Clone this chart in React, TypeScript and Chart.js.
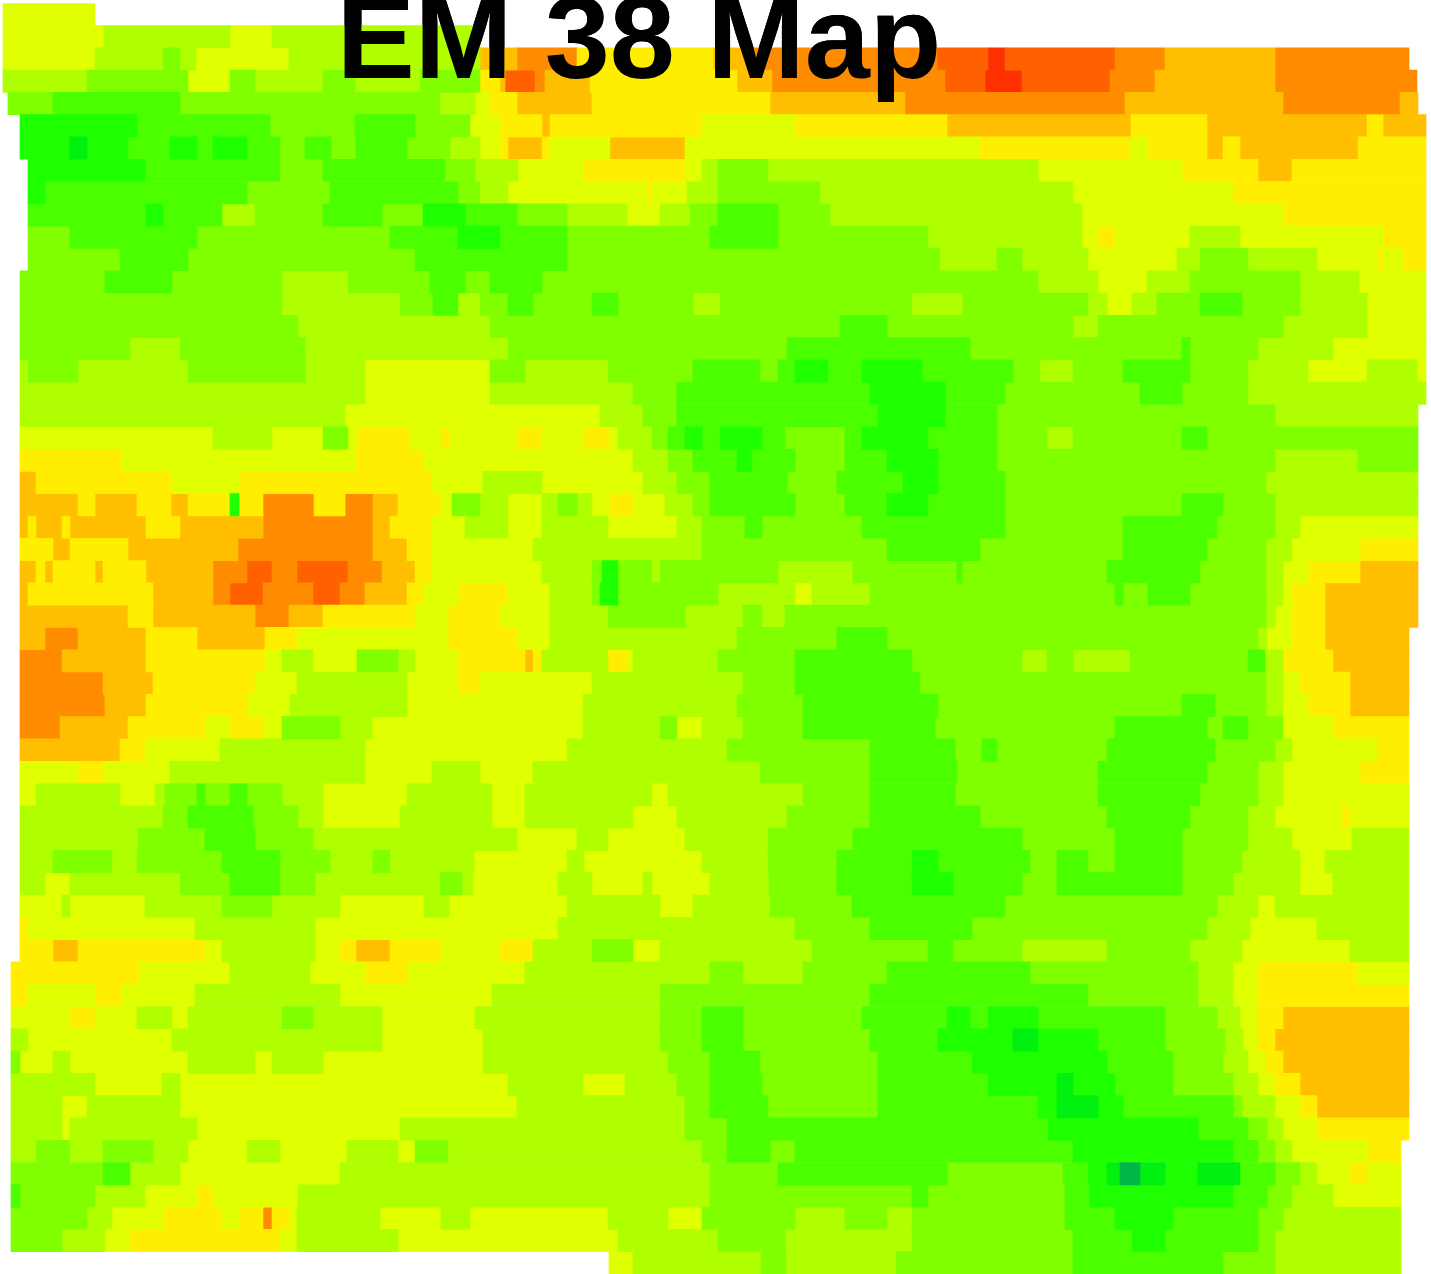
import React, { useEffect, useRef } from "react";
import { Chart, registerables } from "chart.js";

Chart.register(...registerables);

const titleText = "EM 38 Map";

// Conductivity classes, lowest to highest. "." means no reading.
const classKeys = ["a", "b", "c", "d", "e", "f", "g", "h", "i", "j", "k", "l"];
const classColors = [
  "#00B84A", "#00F010", "#1EFF00", "#4CFF00", "#80FF00", "#B0FF00",
  "#E0FF00", "#FFEE00", "#FFBF00", "#FF8C00", "#FF6000", "#FF3000",
];

const fieldWidth = 1431;

// One string per survey line, north to south: class letter + easting where that class ends.
const surveyLines = [
  ".3 g95 .1431",
  ".3 g104 f230 g272 f480 .1431",
  ".3 g95 f163 e180 f196 g289 f480 i517 j577 h713 i747 j937 k988 l1005 k1115 j1165 i1275 j1409 .1431",
  ".3 f87 e188 g230 e255 f323 e355 f420 e480 h500 i505 k535 j545 i590 h737 i772 j945 k985 l1022 k1110 j1155 i1275 j1417 .1431",
  ".8 e53 d180 e440 f475 g490 h517 i592 h770 i905 j1125 i1283 j1400 i1418 .1431",
  ".20 c137 d270 e355 d415 e470 g500 h542 i550 h702 g795 h947 i1131 h1207 i1367 h1383 i1426 .1431",
  ".20 c70 b87 c128 d170 c197 d213 c247 d280 e305 d331 e356 d407 e450 f480 g500 h508 i542 h550 g610 i685 g980 h1130 g1148 h1207 i1223 h1240 i1358 h1426 .1431",
  ".28 c145 d280 e323 d445 e475 f518 g583 h685 g702 f718 e768 f1038 g1182 h1258 i1292 h1426 .1431",
  ".28 c45 d247 e330 d458 e480 f508 g647 h652 g687 f718 e820 f1073 g1233 h1426 .1431",
  ".28 d146 c163 d222 f255 e323 d382 e423 c465 d517 e567 f627 g660 f690 e718 d778 e830 f1082 g1283 h1426 .1431",
  ".28 e70 d197 e390 d458 c500 d567 e710 d778 e928 f1082 g1098 h1115 g1190 f1240 g1383 h1426 .1431",
  ".28 e120 d188 e415 d567 e940 f997 e1022 f1088 g1177 f1200 e1248 f1317 g1377 h1383 g1403 h1426 .1431",
  ".20 e105 d172 e282 f348 e430 d465 e490 d542 e1038 f1098 g1147 f1190 e1300 f1359 g1426 .1431",
  ".20 e282 f400 e433 d458 f480 e508 d533 e592 d618 e693 f720 e912 f963 e1088 f1107 g1132 f1157 e1200 d1242 e1300 f1367 g1426 .1431",
  ".20 e298 f490 e840 d887 e1073 f1098 e1283 f1367 g1426 .1431",
  ".20 e130 f180 e305 f508 e787 d970 e1182 d1190 e1258 f1333 g1426 .1431",
  ".20 f28 e78 f188 e305 f365 g490 e525 f608 e693 d760 e778 d795 c828 d862 c922 d1013 e1040 f1073 e1123 d1190 e1248 f1308 g1367 f1417 g1426 .1431",
  ".20 f365 g490 f633 e677 d870 c945 d1005 e1140 d1182 e1248 f1426 .1431",
  ".20 f345 g600 f643 e677 d878 c945 d997 e1275 f1418 .1431",
  ".20 g213 f272 g323 e348 g357 h410 g441 h450 g517 h542 g584 h610 g618 f652 e668 d685 c702 d720 c762 d785 e845 d862 c928 d997 e1047 f1073 e1182 d1207 e1418 .1431",
  ".20 h122 g355 h423 g633 f668 e693 d737 c752 d795 e845 d887 c938 d997 e1275 f1358 e1418 .1431",
  ".20 i36 h172 g240 h432 g483 f542 g643 f677 e710 d787 e837 d903 c938 d1005 e1266 f1418 .1431",
  ".20 i78 h95 i137 h171 i188 h230 c239 h263 j314 h345 j373 i398 h441 g452 e480 f508 g542 f558 e577 f592 g610 h633 g665 f693 e710 d795 e845 d887 c928 d1005 e1182 d1223 e1275 f1418 .1431",
  ".20 i28 h36 i62 h70 i146 h180 i263 j373 i390 h432 g465 f508 g542 f608 g677 f702 e745 d762 e862 d1005 e1123 d1217 e1275 f1300 g1418 .1431",
  ".20 h53 i70 h128 i238 j373 i407 h432 g533 f702 e887 d980 e1123 d1207 e1266 f1292 g1360 h1418 .1431",
  ".20 i36 h45 i53 h95 i103 h146 i213 j247 k272 j297 k348 j382 i415 h432 g542 f592 e602 c618 e652 f660 e778 f853 e957 d962 e1107 d1200 e1266 f1283 g1308 h1360 i1418 .1431",
  ".20 i28 h153 i213 j230 k263 j313 k340 j365 i407 h423 g458 h508 g550 f592 e600 c618 e718 f795 g812 f870 e1115 d1123 e1148 d1190 e1266 f1283 g1292 h1325 i1418 .1431",
  ".20 i128 h153 i255 j289 i323 h415 g448 h500 g550 f608 e685 f743 e762 f785 e1266 f1275 g1292 h1325 i1418 .1431",
  ".20 i45 j78 i146 h197 i265 h297 g448 h517 g550 f737 e837 d887 e1258 f1267 g1292 h1325 i1409 .1431",
  ".20 j62 i146 h265 g282 f313 g357 e398 f415 g458 h525 i533 h542 f608 h627 g633 f718 e795 d912 e1022 f1047 e1073 f1130 e1248 d1265 f1283 h1333 i1409 .1431",
  ".20 j103 i153 h255 g297 f407 g458 h480 g592 f743 e795 d920 e1266 f1283 g1300 h1350 i1409 .1431",
  ".20 j105 i146 h247 g290 f407 g583 f737 e803 d938 e1182 d1215 e1266 f1283 g1308 h1350 i1409 .1431",
  ".20 j60 i128 h205 g230 h263 g282 e340 f372 g583 f660 e677 g702 f743 e803 d935 e1115 d1207 e1223 d1248 e1283 g1333 h1409 .1431",
  ".20 i120 h145 g220 f365 g567 f727 e870 d955 e982 d997 e1107 d1215 e1275 f1292 g1377 h1409 .1431",
  ".20 g78 h103 g170 f365 g432 f480 g533 f760 e870 d957 e1098 d1207 e1258 f1283 g1360 h1409 .1431",
  ".20 g36 f120 g155 f165 e197 d205 e230 d247 e282 f323 g407 f492 g525 f652 g668 f803 e870 d955 e1098 d1200 e1258 f1283 g1409 .1431",
  ".20 f163 e188 d253 e298 f323 g400 f492 g525 f633 g677 f787 e870 d980 e1107 d1190 e1248 f1275 g1342 h1350 g1409 .1431",
  ".20 f138 e205 d255 e313 f517 g577 f608 g685 f768 e853 d1022 e1115 d1182 e1248 f1292 g1352 f1409 .1431",
  ".20 f53 e112 f137 e222 d280 e330 f373 e390 f474 g567 f584 g702 f768 e837 d912 c938 d1030 e1057 d1088 e1115 d1182 e1242 f1300 g1325 f1409 .1431",
  ".20 f45 g70 f180 e230 d280 e315 f440 e462 f473 g558 f592 g643 f652 g710 f769 e837 d912 c953 d1022 e1057 d1182 e1233 f1300 g1333 f1409 .1431",
  ".20 g62 f70 g145 f163 f222 e272 f340 g424 f449 g567 f660 g693 f770 e852 d1005 e1217 f1258 g1275 f1409 .1431",
  ".20 h28 g195 f315 g558 f795 e870 d972 e1207 f1250 g1317 f1409 .1431",
  ".20 h53 i78 h205 g222 f315 g340 h356 i390 h441 g500 h533 f592 e633 g660 f812 e928 d953 e1022 f1107 e1190 f1242 g1350 f1409 .1431",
  ".11 h140 g230 f310 g365 h407 g525 f710 e743 f803 e887 d1030 e1198 f1233 g1258 h1358 g1409 .1431",
  ".11 h28 g95 h122 g195 f340 g492 f660 e870 d1088 e1198 f1233 g1258 h1409 .1431",
  ".11 g70 h95 g137 f172 g188 f282 e313 f382 g475 f660 e702 d743 e862 d947 c970 d988 c1038 d1165 e1217 f1240 g1257 h1283 i1409 .1431",
  ".11 f28 g172 f382 g483 f660 e702 d743 e870 d938 c1013 b1038 c1098 d1165 e1225 f1243 g1257 h1275 i1409 .1431",
  ".11 e20 g53 f70 g188 f255 g272 f323 g483 f668 e710 d760 e878 d972 c1107 d1173 e1223 f1248 g1265 h1283 i1409 .1431",
  ".11 f95 g162 f180 g508 f583 g625 f677 e710 d762 e878 d988 c1057 b1073 c1115 d1173 e1233 f1258 g1275 h1300 i1409 .1431",
  ".11 f62 g87 f180 g517 f685 e710 d768 e878 d1038 c1057 b1098 c1123 d1233 e1242 f1275 g1300 h1317 i1409 .1431",
  ".11 f62 g70 f197 g400 f685 e727 d1048 c1198 d1248 e1267 f1283 g1317 h1409 .1431",
  ".11 f36 e70 f103 e153 f188 g247 f280 g347 f398 g415 e448 f702 e727 d770 e795 d1073 c1233 d1258 e1275 f1292 g1368 h1401 .1431",
  ".11 e103 d130 f180 g340 f710 e778 d947 e1063 d1088 c1107 b1120 a1140 b1165 c1198 b1240 d1275 e1300 f1317 g1350 h1367 g1401 .1431",
  ".11 d20 e95 f145 g197 h213 g298 f710 e912 d928 e1065 d1090 c1233 d1267 e1292 f1333 g1401 .1431",
  ".11 e87 f112 g163 h222 g240 h263 j272 h290 g297 f380 g441 f470 g608 f668 g702 e795 f845 e887 f912 e1065 d1115 c1173 d1258 e1283 f1401 .1431",
  ".11 e62 f105 g130 h280 g297 f398 g618 f718 e785 f912 e1073 d1132 c1165 d1258 e1275 f1401 .1431",
  ".609 g633 f761 e786 f896 e1073 d1223 e1275 f1401 .1431",
];

const lineLabels = surveyLines.map((_, i) => `line ${i + 1}`);

function runsFor(key: string) {
  const runs: { x: [number, number]; y: string }[] = [];
  surveyLines.forEach((line, i) => {
    let start = 0;
    for (const token of line.split(" ")) {
      const end = Number(token.slice(1));
      if (token[0] === key) runs.push({ x: [start, end], y: lineLabels[i] });
      start = end;
    }
  });
  return runs;
}

const titleOnTop = {
  id: "titleOnTop",
  afterLayout(chart: any) {
    const block = chart.titleBlock;
    block.left -= 76.5;
    block.right -= 76.5;
  },
  afterDatasetsDraw(chart: any) {
    chart.titleBlock.draw();
  },
};

export default function App() {
  const ref = useRef<HTMLCanvasElement>(null);
  useEffect(() => {
    document.body.style.margin = "0";
    const chart = new Chart(ref.current!, {
      type: "bar",
      plugins: [titleOnTop],
      data: {
        labels: lineLabels,
        datasets: classKeys.map((key, i) => ({
          label: key,
          data: runsFor(key) as any,
          backgroundColor: classColors[i],
          borderWidth: 0,
          grouped: false,
          barPercentage: 1,
          categoryPercentage: 1,
        })),
      },
      options: {
        indexAxis: "y",
        responsive: false,
        animation: false,
        events: [],
        layout: { padding: { top: 2 } },
        scales: {
          x: { type: "linear", min: 0, max: fieldWidth, display: false },
          y: { type: "category", offset: true, display: false },
        },
        plugins: {
          legend: { display: false },
          tooltip: { enabled: false },
          title: {
            display: true,
            text: titleText,
            color: "#000000",
            font: { family: "'Liberation Sans'", weight: "bold", size: 117, lineHeight: 0.01 },
            padding: { top: 43, bottom: -43 },
          },
        },
      },
    } as any);
    return () => chart.destroy();
  }, []);
  return (
    <canvas
      ref={ref}
      width={1431}
      height={1274}
      style={{ position: "absolute", left: 0, top: 0, display: "block" }}
    />
  );
}
